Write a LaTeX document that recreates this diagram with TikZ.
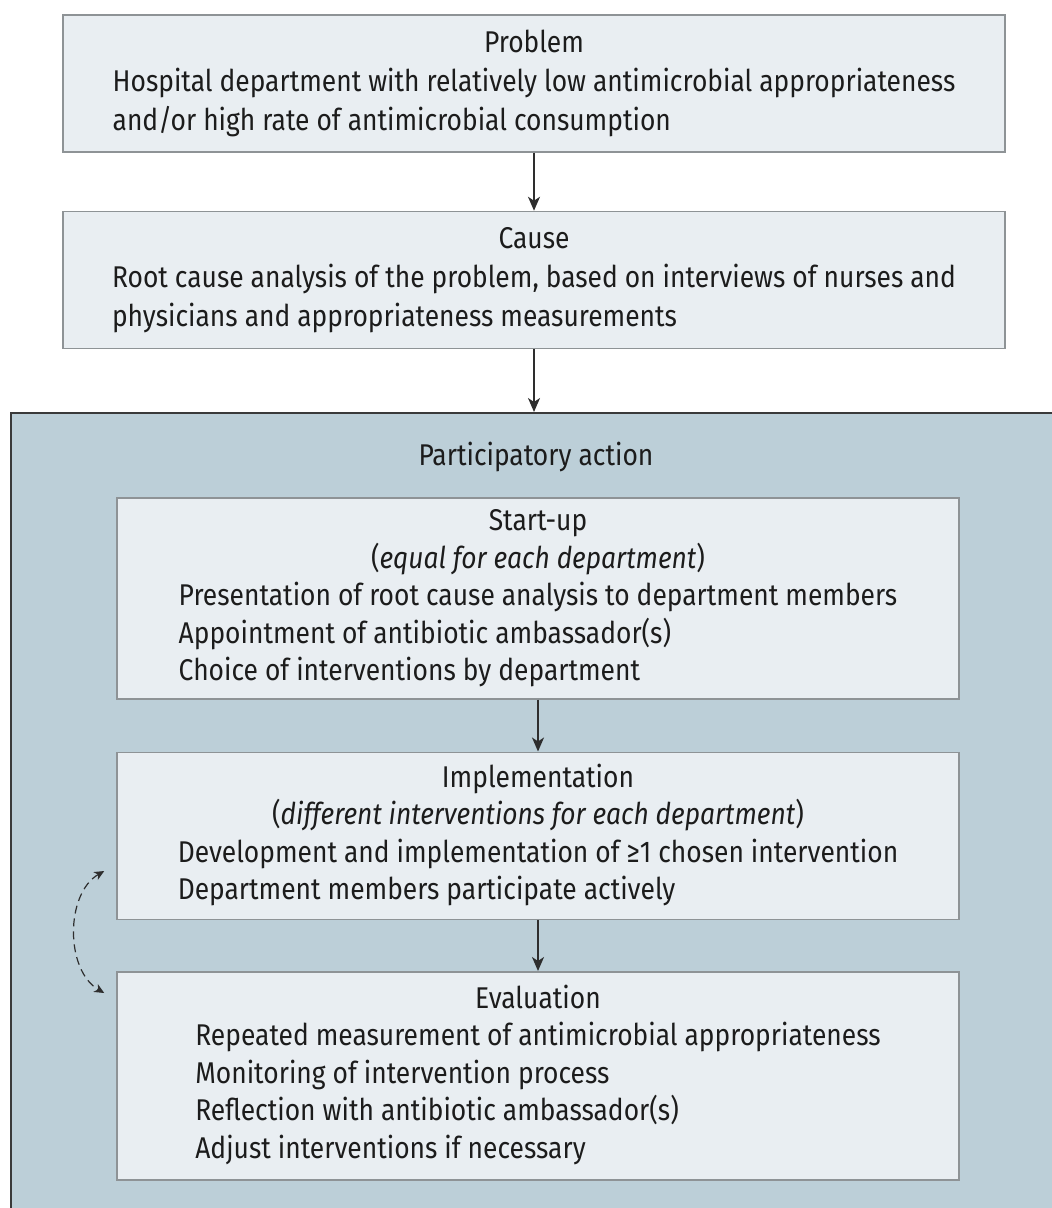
\documentclass[tikz,border=0pt]{standalone}
\usepackage{fontspec}
\setmainfont{Fira Sans}[FakeStretch=0.88]
\usetikzlibrary{positioning,arrows.meta}

\definecolor{stagefill}{HTML}{E9EEF2}
\definecolor{stageline}{HTML}{8E9396}
\definecolor{actionfill}{HTML}{BCCFD8}
\definecolor{actionline}{HTML}{3A3A3A}
\definecolor{flowgray}{HTML}{2E2E2E}
\definecolor{textdark}{HTML}{1C1C1C}

\begin{document}
\begin{tikzpicture}[
	node distance=29pt,
	every node/.style={text=textdark, font=\fontsize{15pt}{18.75pt}\selectfont},
	outerstage/.style={draw=stageline, fill=stagefill, line width=0.75pt, rectangle, align=center, minimum width=471pt, minimum height=68.5pt, inner sep=0pt, font=\fontsize{15pt}{19.5pt}\selectfont},
	innerstage/.style={outerstage, minimum width=421pt, font=\fontsize{15pt}{18.75pt}\selectfont},
	flow/.style={draw=flowgray, line width=0.9pt, -{Stealth[length=7pt, width=6pt, inset=2pt]}},
	loopflow/.style={draw=flowgray, line width=0.6pt, dash pattern=on 4pt off 2.5pt, {Stealth[length=5pt, width=4.5pt, inset=1.5pt]}-{Stealth[length=5pt, width=4.5pt, inset=1.5pt]}}
	]

	\useasboundingbox (0,0) rectangle (526pt,-604pt);

	% Problem and cause
	\node[outerstage] (problem) at (267pt,-41.75pt) {\begin{tabular}{@{}l@{}}
		\multicolumn{1}{@{}c@{}}{Problem}\\
		Hospital department with relatively low antimicrobial appropriateness\\
		and/or high rate of antimicrobial consumption
	\end{tabular}};
	\node[outerstage, below=of problem] (cause) {\begin{tabular}{@{}l@{}}
		\multicolumn{1}{@{}c@{}}{Cause}\\
		Root cause analysis of the problem, based on interviews of nurses and\\
		physicians and appropriateness measurements
	\end{tabular}};

	% Participatory action region
	\node[draw=actionline, fill=actionfill, line width=1pt, rectangle, anchor=north west, minimum width=560pt, minimum height=420pt] (action) at (5pt,-206pt) {};
	\node (actlabel) at (268pt,-228.5pt) {Participatory action};

	\node[innerstage, anchor=north, minimum height=100.5pt] (startup) at (269pt,-248.5pt) {\begin{tabular}{@{}l@{}}
		\multicolumn{1}{@{}c@{}}{Start-up}\\
		\multicolumn{1}{@{}c@{}}{(\textit{equal for each department})}\\
		Presentation of root cause analysis to department members\\
		Appointment of antibiotic ambassador(s)\\
		Choice of interventions by department
	\end{tabular}};
	\node[innerstage, below=26pt of startup, minimum height=83.5pt] (impl) {\begin{tabular}{@{}l@{}}
		\multicolumn{1}{@{}c@{}}{Implementation}\\
		\multicolumn{1}{@{}c@{}}{(\textit{different interventions for each department})}\\
		Development and implementation of ≥1 chosen intervention\\
		Department members participate actively
	\end{tabular}};
	\node[innerstage, below=25.5pt of impl, minimum height=104pt] (eval) {\begin{tabular}{@{}l@{}}
		\multicolumn{1}{@{}c@{}}{Evaluation}\\
		Repeated measurement of antimicrobial appropriateness\\
		Monitoring of intervention process\\
		Reflection with antibiotic ambassador(s)\\
		Adjust interventions if necessary
	\end{tabular}};

	% Arrows
	\draw[flow] (problem) -- (cause);
	\draw[flow] (cause) -- (cause |- action.north);
	\draw[flow] (startup) -- (impl);
	\draw[flow] (impl) -- (eval);
	\draw[loopflow] ([shift={(-6pt,24.5pt)}]impl.south west) to[bend right=60, looseness=0.95] ([shift={(-6pt,-11pt)}]eval.north west);

\end{tikzpicture}
\end{document}
